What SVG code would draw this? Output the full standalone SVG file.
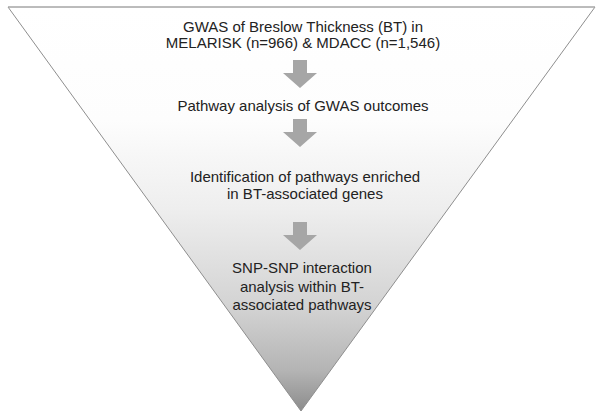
<svg xmlns="http://www.w3.org/2000/svg" width="602" height="419" viewBox="0 0 602 419">
<defs>
<linearGradient id="fade" x1="0" y1="7" x2="0" y2="411" gradientUnits="userSpaceOnUse">
<stop offset="0" stop-color="#ffffff"/>
<stop offset="0.28" stop-color="#fdfdfd"/>
<stop offset="0.5" stop-color="#eeeeee"/>
<stop offset="0.75" stop-color="#d2d2d2"/>
<stop offset="0.9" stop-color="#b4b4b4"/>
<stop offset="1" stop-color="#8c8c8c"/>
</linearGradient>
<path id="arrow" d="M -7 0 H 7 V 13 H 17 L 0 28 L -17 13 H -7 Z"/>
</defs>
<style>
.lbl{font-family:"Liberation Sans",Arial,sans-serif;font-size:15px;fill:#222;text-anchor:middle}
.arr{fill:#a6a6a6}
</style>
<rect width="602" height="419" fill="#ffffff"/>
<g id="funnel">
<polygon points="8,7 595,7 301,411" fill="url(#fade)" stroke="#8e8e8e" stroke-width="1"/>
<line x1="8" y1="7" x2="595" y2="7" stroke="#b0b0b0" stroke-width="1"/>
</g>
<g id="step1">
<text class="lbl" x="303" y="32">GWAS of Breslow Thickness (BT) in</text>
<text class="lbl" x="303" y="48">MELARISK (n=966) &amp; MDACC (n=1,546)</text>
</g>
<g id="step2">
<text class="lbl" x="303" y="111">Pathway analysis of GWAS outcomes</text>
</g>
<g id="step3">
<text class="lbl" x="305" y="182">Identification of pathways enriched</text>
<text class="lbl" x="305" y="199">in BT-associated genes</text>
</g>
<g id="step4">
<text class="lbl" x="302" y="273">SNP-SNP interaction</text>
<text class="lbl" x="302" y="292">analysis within BT-</text>
<text class="lbl" x="302" y="310">associated pathways</text>
</g>
<g id="connectors">
<use href="#arrow" class="arr" transform="translate(300,60)"/>
<use href="#arrow" class="arr" transform="translate(300,119)"/>
<use href="#arrow" class="arr" transform="translate(300,222)"/>
</g>
</svg>
